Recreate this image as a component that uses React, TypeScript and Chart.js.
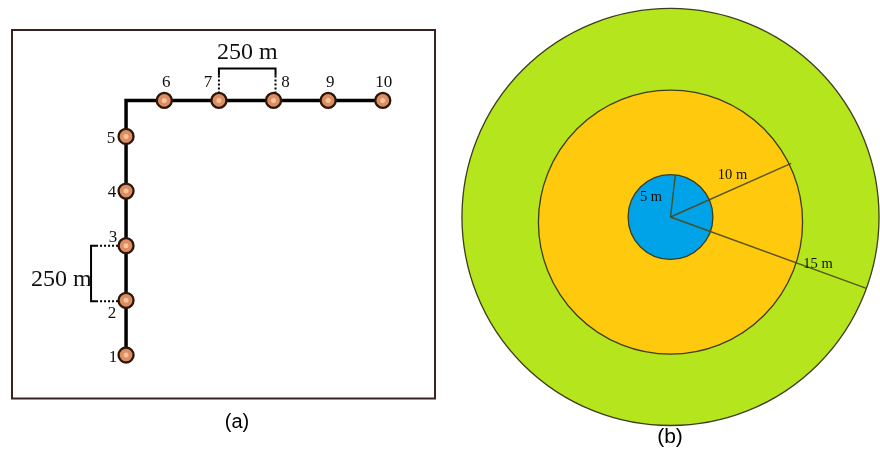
import React, { useEffect, useRef } from "react";
import { Chart, registerables } from "chart.js";

Chart.register(...registerables);

// ---------- Panel (a): sampling stations along an L-shaped transect (metres) ----------
const stationLabels = ["1", "2", "3", "4", "5", "6", "7", "8", "9", "10"];
const stationX = [0, 0, 0, 0, 0, 175, 425, 675, 925, 1175];
const stationY = [0, 250, 500, 750, 1000, 1165, 1165, 1165, 1165, 1165];
const pathCornerX = 0;
const pathCornerY = 1165;
const spacingText = "250 m";
const panelATitle = "(a)";

// ---------- Panel (b): concentric sampling rings ----------
const ringLabels = ["5 m", "10 m", "15 m"];
const ringRadius = [3.05, 9.5, 15.0];
const ringCenterDy = [0, -0.37, 0];
const ringLineAngle = [83.5, 24, -20];
const panelBTitle = "(b)";

// ---------- styles ----------
const SERIF = '"Liberation Serif", "Times New Roman", serif';
const SANS = '"Liberation Sans", Arial, sans-serif';
const ringFill = ["#00a2e8", "#ffc90e", "#b5e61d"];
const stationLabelOffset: [number, number][] = [
  [-13, 1], [-14, 12], [-13, -9], [-14, 0], [-15, 1],
  [2, -18.5], [-11, -18.5], [12, -18.5], [2, -18.5], [1, -18.5],
];
const ringLabelOffset: [number, number][] = [[-19.5, -19.5], [62, -41.5], [147.5, 47]];

const panelAPlugin = {
  id: "panelA",
  afterDraw(chart: any) {
    const ctx = chart.ctx;
    const xs = chart.scales.x;
    const ys = chart.scales.y;
    const ca = chart.chartArea;
    ctx.save();
    // frame
    ctx.strokeStyle = "#3a2222";
    ctx.lineWidth = 2;
    ctx.strokeRect(ca.left, ca.top, ca.right - ca.left, ca.bottom - ca.top);

    // station numbers
    ctx.fillStyle = "#111";
    ctx.font = `17px ${SERIF}`;
    ctx.textAlign = "center";
    ctx.textBaseline = "alphabetic";
    stationLabels.forEach((lab, i) => {
      const px = xs.getPixelForValue(stationX[i]);
      const py = ys.getPixelForValue(stationY[i]);
      const [dx, dy] = stationLabelOffset[i];
      ctx.fillText(lab, px + dx, py + dy + 5.5);
    });

    ctx.strokeStyle = "#000";
    ctx.lineWidth = 2;
    // top spacing bracket (stations 7 and 8)
    {
      const xa = xs.getPixelForValue(stationX[6]);
      const xb = xs.getPixelForValue(stationX[7]) + 2;
      const py = ys.getPixelForValue(stationY[6]);
      const top = py - 32;
      ctx.setLineDash([]);
      ctx.beginPath();
      ctx.moveTo(xa, top + 7);
      ctx.lineTo(xa, top);
      ctx.lineTo(xb, top);
      ctx.lineTo(xb, top + 7);
      ctx.stroke();
      ctx.setLineDash([2, 2]);
      ctx.beginPath();
      ctx.moveTo(xa, top + 7);
      ctx.lineTo(xa, py - 8);
      ctx.moveTo(xb, top + 7);
      ctx.lineTo(xb, py - 8);
      ctx.stroke();
      ctx.setLineDash([]);
      ctx.font = `24px ${SERIF}`;
      ctx.textAlign = "center";
      ctx.fillText(spacingText, (xa + xb) / 2, top - 9);
    }
    // left spacing bracket (stations 2 and 3)
    {
      const px = xs.getPixelForValue(stationX[1]);
      const ya = ys.getPixelForValue(stationY[2]);
      const yb = ys.getPixelForValue(stationY[1]) + 1;
      const left = px - 35;
      ctx.setLineDash([]);
      ctx.beginPath();
      ctx.moveTo(left + 5, ya);
      ctx.lineTo(left, ya);
      ctx.lineTo(left, yb);
      ctx.lineTo(left + 5, yb);
      ctx.stroke();
      ctx.setLineDash([2, 2]);
      ctx.beginPath();
      ctx.moveTo(left + 5, ya);
      ctx.lineTo(px - 8, ya);
      ctx.moveTo(left + 5, yb);
      ctx.lineTo(px - 8, yb);
      ctx.stroke();
      ctx.setLineDash([]);
      ctx.font = `24px ${SERIF}`;
      ctx.textAlign = "right";
      ctx.fillText(spacingText, left + 0.5, (ya + yb) / 2 + 12);
    }

    // panel caption
    ctx.font = `20px ${SANS}`;
    ctx.textAlign = "center";
    ctx.textBaseline = "middle";
    ctx.fillStyle = "#000";
    ctx.fillText(panelATitle, 237, 422);
    ctx.restore();
  },
};

const panelBPlugin = {
  id: "panelB",
  beforeDatasetsDraw(chart: any) {
    const ctx = chart.ctx;
    const xs = chart.scales.x;
    const ys = chart.scales.y;
    const unit = xs.getPixelForValue(1) - xs.getPixelForValue(0);
    ctx.save();
    for (let i = ringRadius.length - 1; i >= 0; i--) {
      const cx = xs.getPixelForValue(0);
      const cy = ys.getPixelForValue(ringCenterDy[i]);
      ctx.beginPath();
      ctx.arc(cx, cy, ringRadius[i] * unit, 0, Math.PI * 2);
      ctx.fillStyle = ringFill[i];
      ctx.fill();
      ctx.strokeStyle = "#3d3d1c";
      ctx.lineWidth = 1.3;
      ctx.stroke();
    }
    ctx.restore();
  },
  afterDraw(chart: any) {
    const ctx = chart.ctx;
    const xs = chart.scales.x;
    const ys = chart.scales.y;
    const cx = xs.getPixelForValue(0);
    const cy = ys.getPixelForValue(0);
    ctx.save();
    ctx.fillStyle = "#111";
    ctx.font = `14.5px ${SERIF}`;
    ctx.textAlign = "center";
    ctx.textBaseline = "middle";
    ringLabels.forEach((lab, i) => {
      const [dx, dy] = ringLabelOffset[i];
      ctx.fillText(lab, cx + dx, cy + dy);
    });
    ctx.font = `21px ${SANS}`;
    ctx.fillStyle = "#000";
    ctx.fillText(panelBTitle, 670 - 440, 437);
    ctx.restore();
  },
};

function PanelA() {
  const ref = useRef<HTMLCanvasElement | null>(null);
  useEffect(() => {
    if (!ref.current) return;
    const stations = stationX.map((x, i) => ({ x, y: stationY[i] }));
    const path = [
      ...stations.slice(0, 5),
      { x: pathCornerX, y: pathCornerY },
      ...stations.slice(5),
    ];
    const chart = new Chart(ref.current, {
      type: "scatter",
      data: {
        datasets: [
          {
            data: path,
            showLine: true,
            borderColor: "#000",
            borderWidth: 3.5,
            pointRadius: 0,
            order: 3,
          },
          {
            data: stations,
            pointRadius: 7.5,
            pointBackgroundColor: "#dc8d62",
            pointBorderColor: "#2b160c",
            pointBorderWidth: 2.3,
            order: 2,
          },
          {
            data: stations,
            pointRadius: 2.5,
            pointBackgroundColor: "#f6c39c",
            pointBorderWidth: 0,
            order: 1,
          },
        ],
      },
      options: {
        responsive: false,
        animation: false,
        events: [],
        layout: { autoPadding: false, padding: { left: 12, top: 30, right: 5, bottom: 55.5 } },
        scales: {
          x: { type: "linear", min: -522, max: 1414, display: false },
          y: { type: "linear", min: -199, max: 1487, display: false },
        },
        plugins: { legend: { display: false }, tooltip: { enabled: false } },
      },
      plugins: [panelAPlugin],
    } as any);
    return () => chart.destroy();
  }, []);
  return (
    <canvas
      ref={ref}
      width={440}
      height={454}
      style={{ position: "absolute", left: 0, top: 0, width: 440, height: 454 }}
    />
  );
}

function PanelB() {
  const ref = useRef<HTMLCanvasElement | null>(null);
  useEffect(() => {
    if (!ref.current) return;
    const datasets = ringLabels.map((lab, i) => {
      const a = (ringLineAngle[i] * Math.PI) / 180;
      return {
        label: lab,
        data: [
          { x: 0, y: 0 },
          { x: ringRadius[i] * Math.cos(a), y: ringRadius[i] * Math.sin(a) },
        ],
        showLine: true,
        borderColor: "rgba(72,72,24,0.9)",
        borderWidth: 1.4,
        pointRadius: 0,
      };
    });
    const chart = new Chart(ref.current, {
      type: "scatter",
      data: { datasets },
      options: {
        responsive: false,
        animation: false,
        events: [],
        layout: { autoPadding: false, padding: 0 },
        scales: {
          x: { type: "linear", min: -16.58, max: 15.07, display: false },
          y: { type: "linear", min: -17.05, max: 15.61, display: false },
        },
        plugins: { legend: { display: false }, tooltip: { enabled: false } },
      },
      plugins: [panelBPlugin],
    } as any);
    return () => chart.destroy();
  }, []);
  return (
    <canvas
      ref={ref}
      width={440}
      height={454}
      style={{ position: "absolute", left: 440, top: 0, width: 440, height: 454 }}
    />
  );
}

export default function App() {
  return (
    <div
      style={{
        position: "fixed",
        left: 0,
        top: 0,
        width: 880,
        height: 454,
        background: "#fff",
        overflow: "hidden",
      }}
    >
      <PanelA />
      <PanelB />
    </div>
  );
}
